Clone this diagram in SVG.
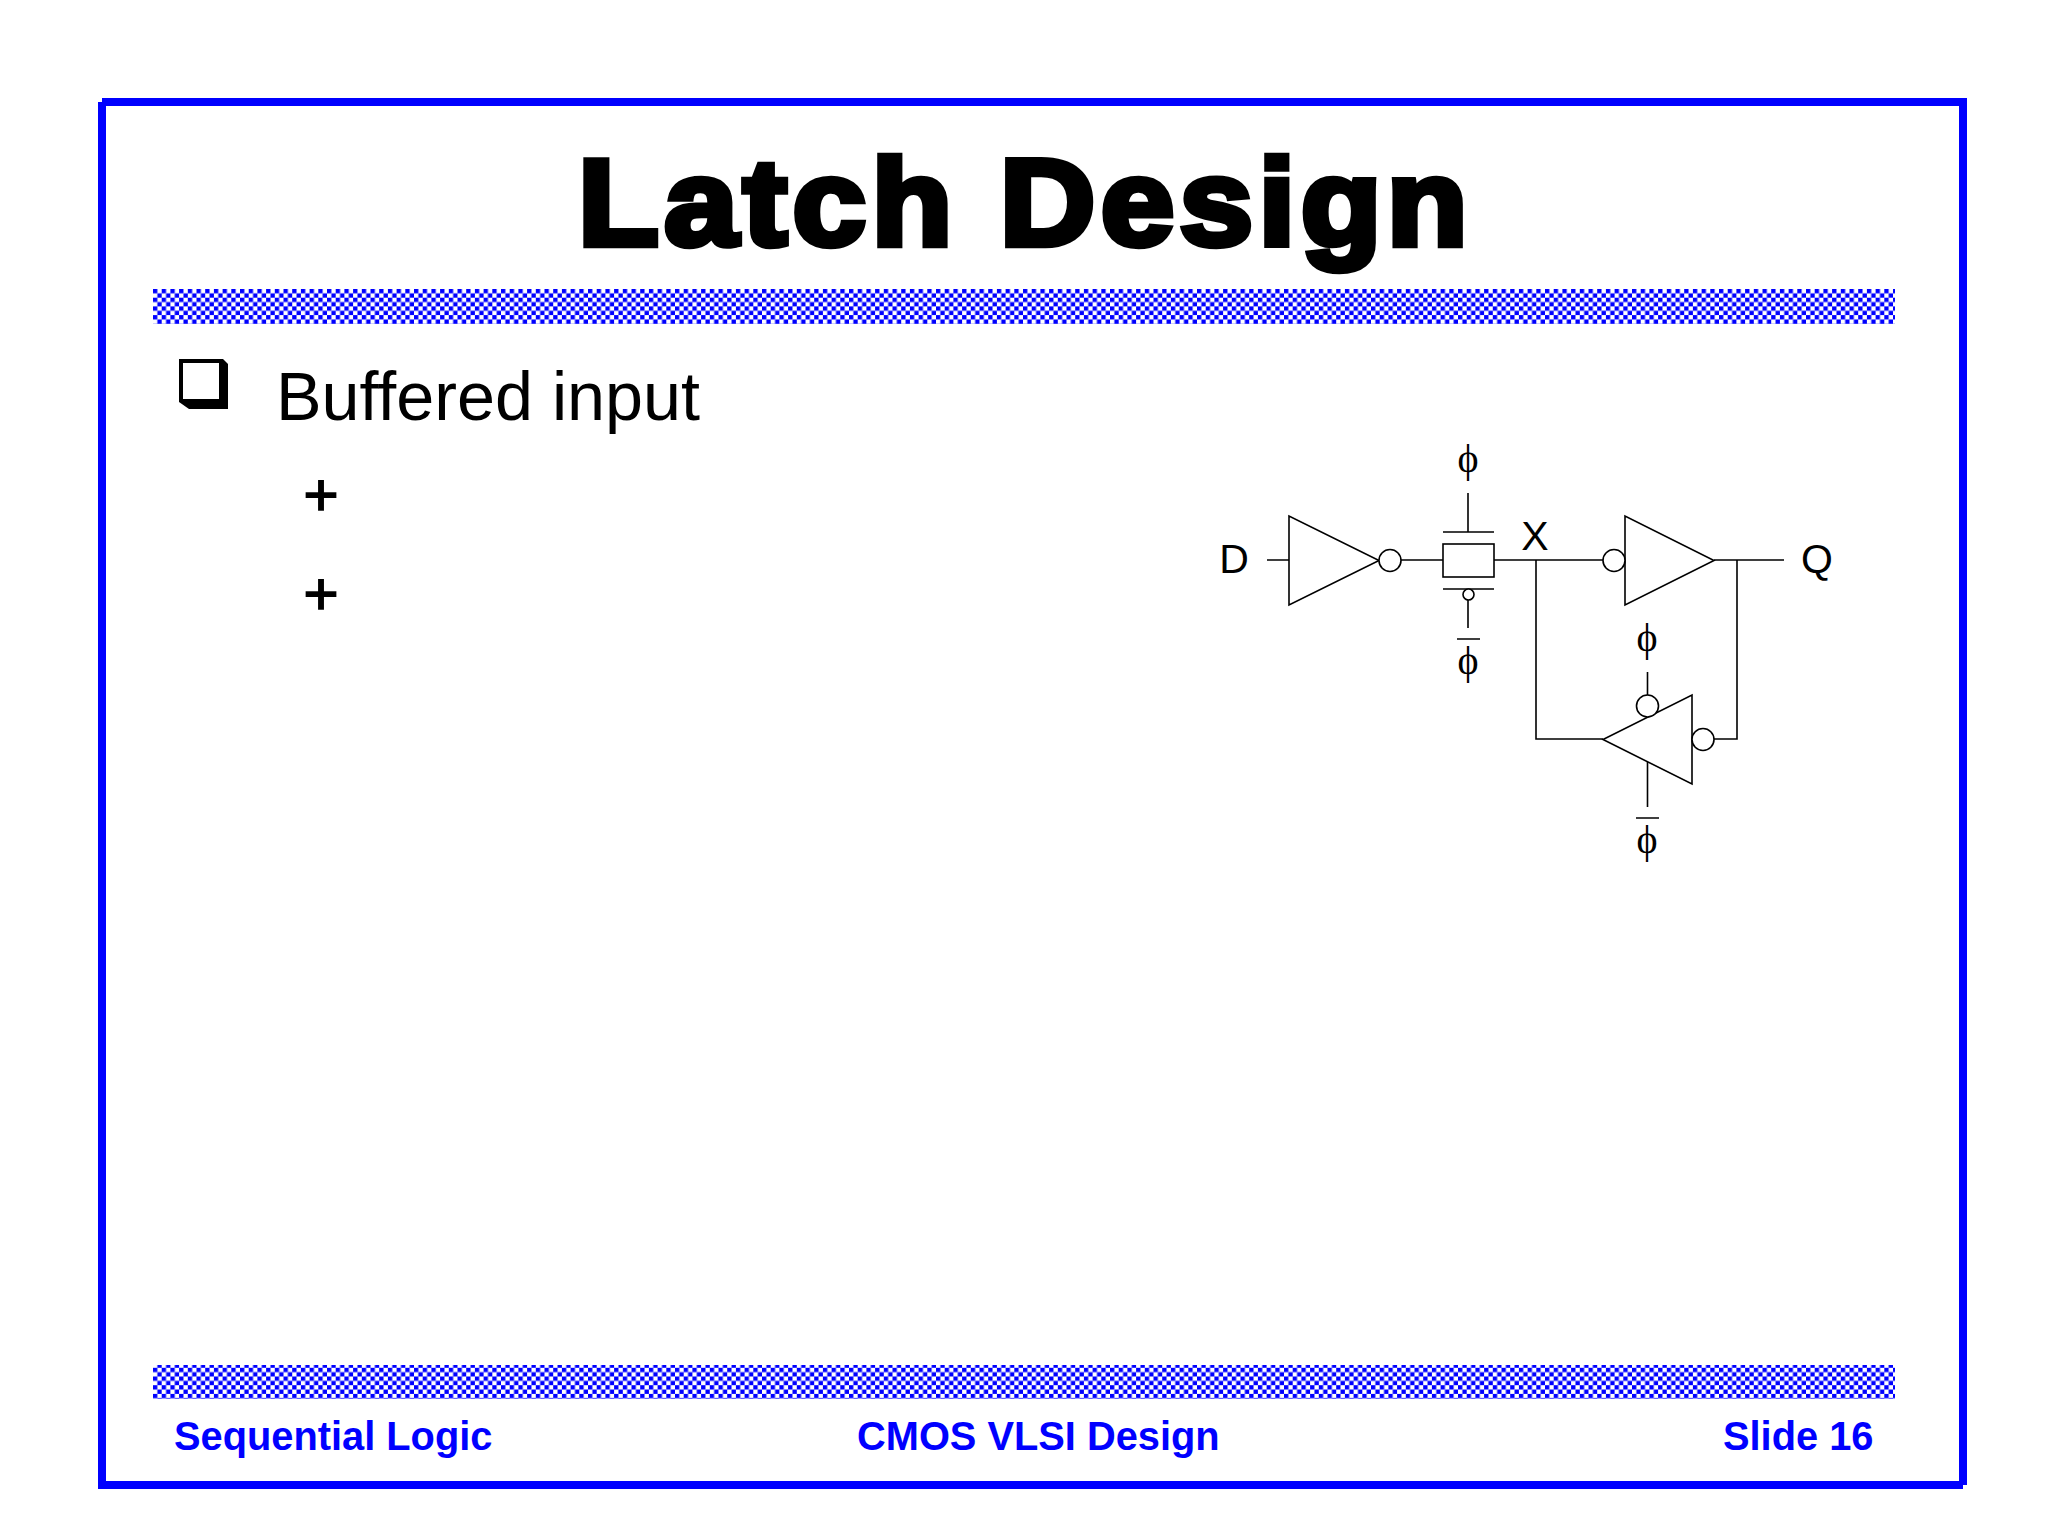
<svg xmlns="http://www.w3.org/2000/svg" width="2048" height="1536" viewBox="0 0 2048 1536">
<style>
.w{fill:none;stroke:#000;stroke-width:1.6}
.g{fill:#fff;stroke:#000;stroke-width:1.6}
.l{font-family:"Liberation Sans",Arial,sans-serif;font-size:41px;fill:#000;text-anchor:middle}
.p{font-family:"Liberation Serif","DejaVu Serif",serif;font-size:40px;fill:#000;text-anchor:middle}
.f{font-family:"Liberation Sans",Arial,sans-serif;font-weight:700;font-size:39.800px;fill:#0000ff}
.b{font-family:"Liberation Sans",Arial,sans-serif;fill:#000}
.e{fill:#0000ff}
</style>
<defs>
<pattern id="ck" x="153" y="289" width="8.7" height="8.7" patternUnits="userSpaceOnUse">
<rect width="8.7" height="8.7" fill="#fff"/>
<rect width="4.35" height="4.35" fill="#0000ff"/>
<rect x="4.35" y="4.35" width="4.35" height="4.35" fill="#0000ff"/>
</pattern>
</defs>
<rect width="2048" height="1536" fill="#fff"/>
<g id="frame"><rect class="e" x="102" y="98" width="1865" height="8"/><rect class="e" x="1959" y="98" width="8" height="1387"/><rect class="e" x="98" y="1481" width="1865" height="8"/><rect class="e" x="98" y="102" width="8" height="1387"/></g>
<rect id="band-top" x="153" y="289" width="1742" height="35" fill="url(#ck)"/>
<rect id="band-bottom" x="153" y="1365" width="1742" height="34" fill="url(#ck)"/>
<text id="title" x="578" y="245" font-family="'Liberation Sans',Arial,sans-serif" font-weight="700" font-size="122" stroke="#000" stroke-width="6.500" stroke-linejoin="miter" letter-spacing="5" textLength="895" lengthAdjust="spacingAndGlyphs">Latch Design</text>
<g id="bullet"><path d="M179 359h44l5 5v45h-39l-10-7z" fill="#000"/><rect x="183" y="363" width="36" height="36" fill="#fff"/></g>
<text id="b1" class="b" x="276" y="420" font-size="68.300">Buffered input</text>
<text id="p1" class="b" x="321" y="515" font-size="60" stroke="#000" stroke-width="1.600" text-anchor="middle">+</text>
<text id="p2" class="b" x="321" y="614" font-size="60" stroke="#000" stroke-width="1.600" text-anchor="middle">+</text>
<g id="connectors">
<path class="w" d="M1267 560H1289M1401 560H1443M1494 560H1603M1468 493V532M1468 600V628M1536 560V739H1603M1714 560H1784M1737 560V739H1714M1647.500 672V695M1647.500 762V807"/>
<path class="w" d="M1457 639H1480M1636 818H1659"/>
</g>
<g id="inv1"><path class="g" d="M1289 516V605L1379 560.500Z"/><circle class="g" cx="1390" cy="560.500" r="11"/></g>
<g id="tgate"><rect class="g" x="1443" y="544" width="51" height="33"/><path class="w" d="M1443 532H1494M1443 589H1494"/><circle class="g" cx="1468.500" cy="594.500" r="5.500"/></g>
<g id="inv2"><path class="g" d="M1625 516V605L1714 560.500Z"/><circle class="g" cx="1614" cy="560.500" r="11"/></g>
<g id="inv3"><path class="g" d="M1692 695V784L1603 739.500Z"/><circle class="g" cx="1703" cy="739.500" r="11"/><circle class="g" cx="1647.500" cy="706" r="11"/></g>
<g id="labels">
<text class="l" x="1234" y="573">D</text>
<text class="l" x="1535" y="550">X</text>
<text class="l" x="1817" y="573">Q</text>
<text class="p" x="1468" y="472">ϕ</text>
<text class="p" x="1468" y="674">ϕ</text>
<text class="p" x="1647" y="651">ϕ</text>
<text class="p" x="1647" y="853">ϕ</text>
</g>
<text class="f" x="174" y="1450">Sequential Logic</text>
<text class="f" x="857" y="1450">CMOS VLSI Design</text>
<text class="f" x="1723" y="1450">Slide 16</text>
</svg>
